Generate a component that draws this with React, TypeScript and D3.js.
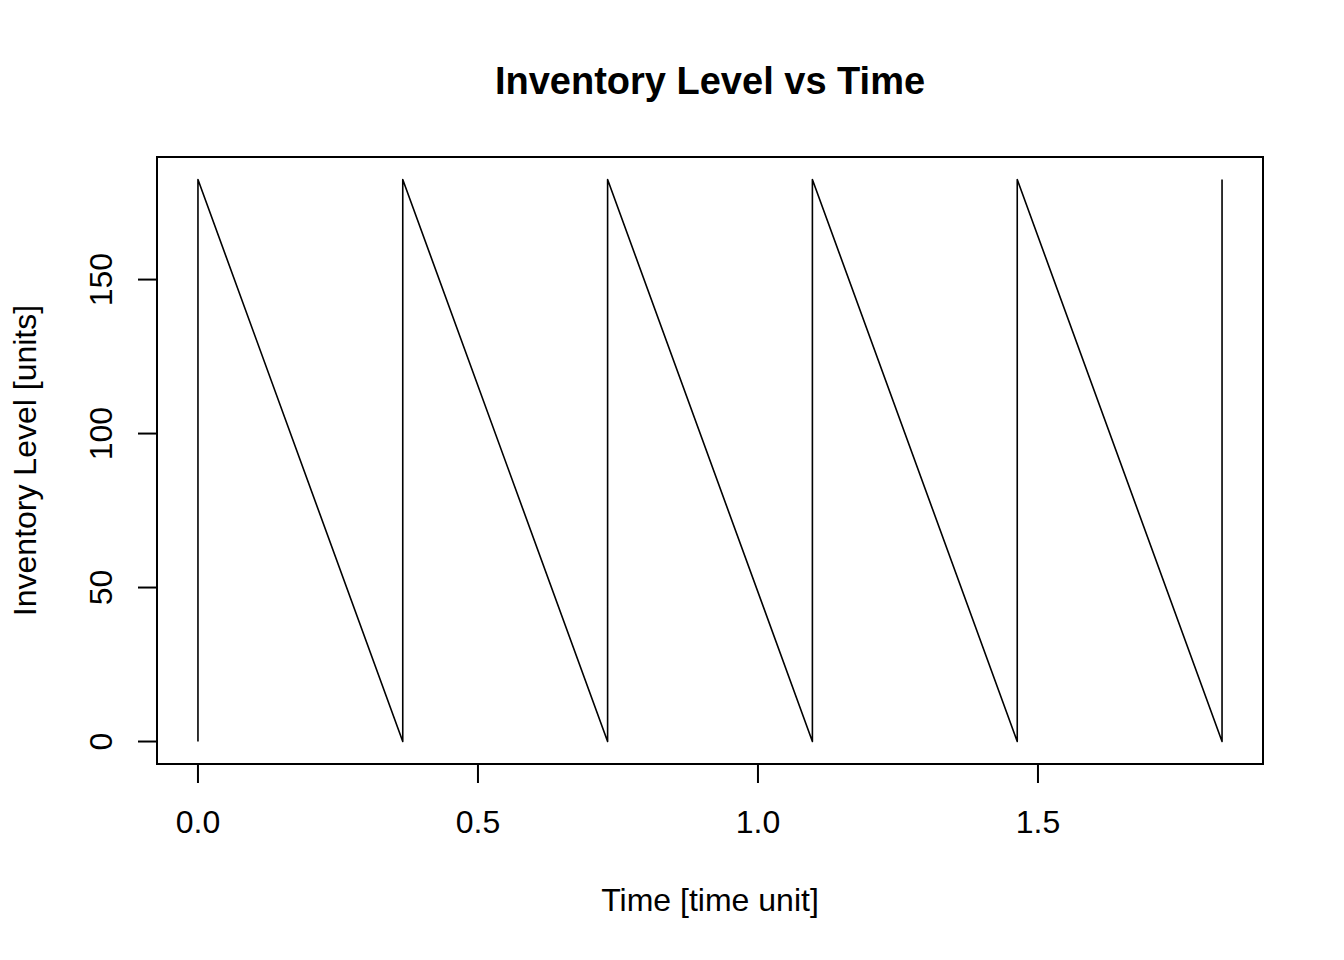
import React from "react";
import * as d3 from "d3";

const times = [0, 0, 0.3657, 0.3657, 0.7315, 0.7315, 1.0972, 1.0972, 1.463, 1.463, 1.8287, 1.8287];
const levels = [0, 182.5, 0, 182.5, 0, 182.5, 0, 182.5, 0, 182.5, 0, 182.5];
const xTicks = [0, 0.5, 1.0, 1.5];
const yTicks = [0, 50, 100, 150];

const W = 1344;
const H = 960;
const L = 157, R = 1263, T = 157, B = 764;
const FONT = "'Liberation Sans', Arial, Helvetica, sans-serif";

export default function App() {
  const xmin = d3.min(times)!, xmax = d3.max(times)!;
  const ymin = d3.min(levels)!, ymax = d3.max(levels)!;
  const xpad = (xmax - xmin) * 0.04;
  const ypad = (ymax - ymin) * 0.04;
  const x = d3.scaleLinear().domain([xmin - xpad, xmax + xpad]).range([L, R]);
  const y = d3.scaleLinear().domain([ymin - ypad, ymax + ypad]).range([B, T]);
  const pts = times.map((t, i) => [t, levels[i]] as [number, number]);
  const line = d3.line<[number, number]>().x(d => x(d[0])).y(d => y(d[1]));

  return (
    <svg width={W} height={H} style={{ position: "absolute", left: 0, top: 0, background: "#fff" }} fontFamily={FONT}>
      <rect x={0} y={0} width={W} height={H} fill="#fff" />
      <text x={(L + R) / 2} y={94} textAnchor="middle" fontSize={38} fontWeight="bold">Inventory Level vs Time</text>
      <path d={line(pts)!} fill="none" stroke="#000" strokeWidth={1.6} strokeLinejoin="round" />
      <rect x={L} y={T} width={R - L} height={B - T} fill="none" stroke="#000" strokeWidth={2} />
      {/* x axis */}
      <line x1={x(xTicks[0])} x2={x(xTicks[xTicks.length - 1])} y1={B} y2={B} stroke="#000" strokeWidth={2} />
      {xTicks.map(t => (
        <g key={"x" + t}>
          <line x1={x(t)} x2={x(t)} y1={B} y2={B + 19} stroke="#000" strokeWidth={2} />
          <text x={x(t)} y={833} textAnchor="middle" fontSize={32}>{t.toFixed(1)}</text>
        </g>
      ))}
      {/* y axis */}
      {yTicks.map(t => (
        <g key={"y" + t}>
          <line x1={L} x2={L - 19} y1={y(t)} y2={y(t)} stroke="#000" strokeWidth={2} />
          <text transform={`translate(112,${y(t)}) rotate(-90)`} textAnchor="middle" fontSize={32}>{t}</text>
        </g>
      ))}
      <text x={(L + R) / 2} y={911} textAnchor="middle" fontSize={32}>Time [time unit]</text>
      <text transform={`translate(36,${(T + B) / 2}) rotate(-90)`} textAnchor="middle" fontSize={32}>Inventory Level [units]</text>
    </svg>
  );
}
